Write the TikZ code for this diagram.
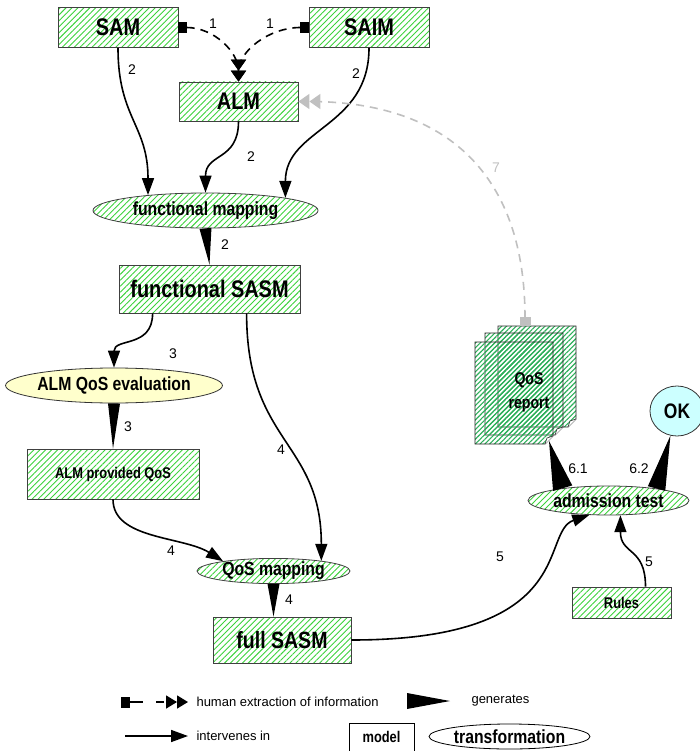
\documentclass[tikz,border=0pt]{standalone}
\usepackage{fontspec}
\setmainfont{Liberation Sans}
\newfontfamily\condbf[FakeStretch=0.83]{Liberation Sans Bold}
\usetikzlibrary{arrows.meta,patterns.meta,shapes.geometric,calc}
\definecolor{hatch}{RGB}{60,210,60}
\definecolor{dochatch}{RGB}{45,175,90}
\definecolor{evalfill}{RGB}{255,255,204}
\definecolor{okfill}{RGB}{204,255,255}
\definecolor{fbgray}{RGB}{192,192,192}
\newcommand{\fsz}[1]{\fontsize{#1}{#1}\selectfont}
\newcommand{\bfsz}[1]{\condbf\fontsize{#1}{#1}\selectfont}
% "generates": filled wedge from source to target
\newcommand{\gen}[3][6pt]{\fill ($(#2)!#1!90:(#3)$) -- ($(#2)!#1!-90:(#3)$) -- (#3) -- cycle;}
% one page of the QoS report
\newcommand{\qosdoc}[4]{%
  \draw[docpage] (#1,#2) -- (#3,#2) -- (#3,#4-8) -- (#3-8,#4) -- (#1,#4) -- cycle;
  \draw[docfold] (#3,#4-8) -- (#3-6,#4-6) -- (#3-8,#4);}
\tikzset{
  model/.style={draw=black!75, line width=0.8pt,
    pattern={Lines[angle=45,distance=4.2pt,line width=0.9pt]}, pattern color=hatch, inner sep=1pt},
  transf/.style={ellipse, model, inner sep=0pt},
  docpage/.style={draw=black!85, line width=0.8pt,
    pattern={Lines[angle=45,distance=3.4pt,line width=1.1pt]}, pattern color=dochatch},
  docfold/.style={draw=black!85, line width=0.6pt, fill=white},
  num/.style={font=\fsz{14}},
  intervenes/.style={line width=1.6pt, -{Triangle[length=17pt,width=12pt]}},
  human/.style={line width=1.6pt, dash pattern=on 8pt off 6pt,
    {Square[length=9pt,width=11pt]}-{Triangle[length=11pt,width=15pt]Triangle[length=11pt,width=15pt]}},
  feedback/.style={human, draw=fbgray},
}
\begin{document}
\begin{tikzpicture}[x=1pt, y=-1pt]
  \useasboundingbox (0,0) rectangle (699,751);
  % models
  \node[model, minimum width=120pt, minimum height=40pt, font=\bfsz{24}] (sam) at (118,27.5) {SAM};
  \node[model, minimum width=120pt, minimum height=40pt, font=\bfsz{24}] (saim) at (369,27.5) {SAIM};
  \node[model, minimum width=119pt, minimum height=39pt, font=\bfsz{24}] (alm) at (238.5,101.5) {ALM};
  \node[model, minimum width=181pt, minimum height=48pt, font=\bfsz{24}] (fsasm) at (209.5,289) {functional SASM};
  \node[model, minimum width=172pt, minimum height=50pt, font=\bfsz{15.5}] (apqos) at (113,474) {ALM provided QoS};
  \node[model, minimum width=138pt, minimum height=46pt, font=\bfsz{23.5}] (fullsasm) at (282,640) {full SASM};
  \node[model, minimum width=99pt, minimum height=31pt, font=\bfsz{15.5}] (rules) at (621.5,602.5) {Rules};
  % transformations
  \node[transf, minimum width=225pt, minimum height=35pt, font=\bfsz{19}] (fm) at (205.5,210.5) {functional mapping};
  \node[ellipse, draw=black!80, line width=0.8pt, fill=evalfill, inner sep=0pt,
    minimum width=208pt, minimum height=35pt, font=\bfsz{19}] (eval) at (114,385.5) {ALM QoS evaluation};
  \node[transf, minimum width=153pt, minimum height=25pt, font=\bfsz{19}] (qosmap) at (273.5,571) {QoS mapping};
  \node[transf, minimum width=161pt, minimum height=29pt, font=\bfsz{19}] (adm) at (608.5,500.5) {admission test};
  \node[ellipse, draw=black!80, line width=0.8pt, fill=okfill, inner sep=0pt,
    minimum width=54pt, minimum height=50pt, font=\bfsz{21}] (ok) at (677,411) {OK};
  % QoS report, three pages
  \qosdoc{498}{326}{576}{427}
  \qosdoc{485}{333}{563}{435}
  \qosdoc{475}{342}{553}{444}
  \node[font=\condbf\fontsize{17}{24}\selectfont, align=center] (report) at (529,392) {QoS\\report};
  \coordinate (doctop) at (525,326);
  \coordinate (doccorner) at (549,441);

  % 1: human extraction
  \draw[human] (sam.east) .. controls +(35,0) and +(0,-30) .. (alm.north);
  \draw[human] (saim.west) .. controls +(-40,0) and +(0,-30) .. (alm.north);
  \node[num] (n1a) at (213,24) {1};
  \node[num] (n1b) at (270,24) {1};
  % 2
  \draw[intervenes] (sam.south) .. controls +(0,70) and +(0,-70) .. (fm.165);
  \draw[intervenes] (alm.south) .. controls +(0,40) and +(0,-40) .. (fm.north);
  \draw[intervenes] (saim.south) .. controls +(0,80) and +(0,-70) .. (fm.9);
  \gen{fm.south}{fsasm.north}
  \node[num] (n2a) at (132,70) {2};
  \node[num] (n2b) at (356,74) {2};
  \node[num] (n2c) at (251,157) {2};
  \node[num] (n2d) at (225,245) {2};
  % 3
  \draw[intervenes] ($(fsasm.south west)+(34,0)$) .. controls +(0,35) and +(0,-30) .. (eval.north);
  \gen{eval.south}{apqos.north}
  \node[num] (n3a) at (173,354) {3};
  \node[num] (n3b) at (128,427) {3};
  % 4
  \draw[intervenes] ($(fsasm.south west)+(128,0)$) .. controls +(0,130) and +(0,-120) .. (qosmap.12);
  \draw[intervenes] (apqos.south) .. controls +(0,40) and +(-40,-25) .. (qosmap.169);
  \coordinate (fullin) at (qosmap.south |- fullsasm.north);
  \gen{qosmap.south}{fullin}
  \node[num] (n4a) at (281,450) {4};
  \node[num] (n4b) at (171,551) {4};
  \node[num] (n4c) at (289,600) {4};
  % 5
  \draw[intervenes] (fullsasm.east) .. controls +(229,0) and +(-50,17) .. (adm.217);
  \draw[intervenes] ($(rules.north)+(24,0)$) .. controls +(0,-40) and +(0,40) .. (adm.309);
  \node[num] (n5a) at (500,557) {5};
  \node[num] (n5b) at (649,562) {5};
  % 6
  \gen[10pt]{adm.165}{doccorner}
  \gen[9pt]{adm.14}{ok.255}
  \node[num] (n61) at (578,469) {6.1};
  \node[num] (n62) at (639,469) {6.2};
  % 7: feedback to ALM
  \draw[feedback] (doctop) .. controls +(0,-150) and +(150,0) .. (alm.east);
  \node[num, text=fbgray] (n7) at (496,168) {7};

  % legend
  \coordinate (lg1a) at (121,702);
  \coordinate (lg1b) at (143,702);
  \coordinate (lg1c) at (156,702);
  \coordinate (lg1d) at (188,702);
  \draw[line width=1.6pt, {Square[length=9pt,width=11pt]}-] (lg1a) -- (lg1b);
  \draw[line width=1.6pt, dash pattern=on 8pt off 4pt,
    -{Triangle[length=11pt,width=13pt]Triangle[length=11pt,width=13pt]}] (lg1c) -- (lg1d);
  \node[anchor=west, font=\fsz{13}] (lghuman) at (193,702) {human extraction of information};
  \coordinate (lg1e) at (407,701);
  \coordinate (lg1f) at (450,701);
  \gen[8pt]{lg1e}{lg1f}
  \node[anchor=west, font=\fsz{13}] (lggen) at (468,701) {generates};
  \coordinate (lg2a) at (125,736);
  \coordinate (lg2b) at (188,736);
  \draw[intervenes] (lg2a) -- (lg2b);
  \node[anchor=west, font=\fsz{13}] (lgint) at (193,736) {intervenes in};
  \node[draw, line width=0.8pt, minimum width=65pt, minimum height=28pt, font=\bfsz{15.5}] (lgmodel) at (381.5,737) {model};
  \node[ellipse, draw, line width=0.8pt, inner sep=0pt, minimum width=161pt, minimum height=25pt,
    font=\bfsz{19}] (lgtransf) at (509.5,736.5) {transformation};
\end{tikzpicture}
\end{document}
